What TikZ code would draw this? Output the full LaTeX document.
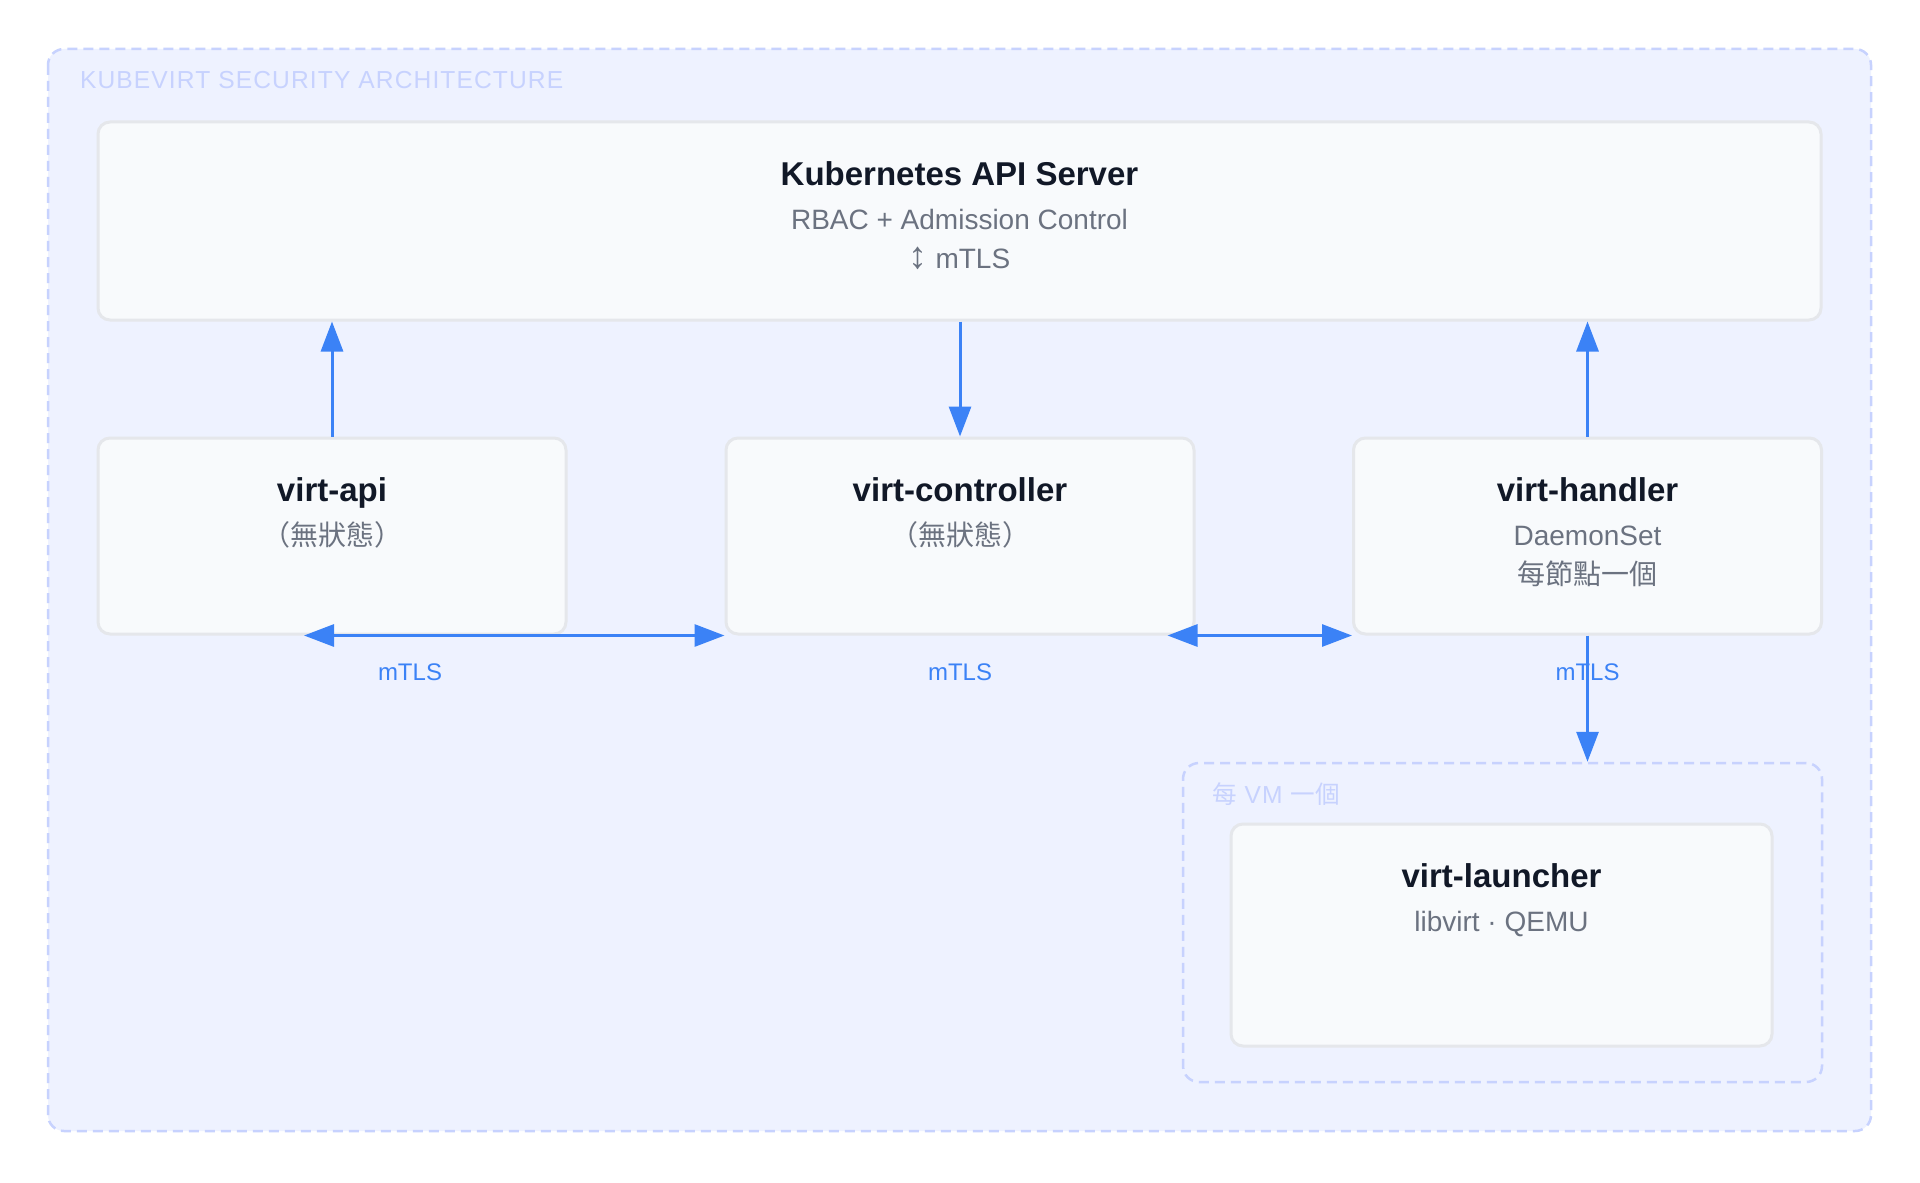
\documentclass[tikz,border=0pt]{standalone}
\usepackage{fontspec}
\setmainfont{Liberation Sans}
\newfontfamily\cjk{Noto Sans CJK TC}
\usetikzlibrary{arrows.meta,positioning,calc}
\definecolor{Frame}{HTML}{C7D2FE}
\definecolor{Wash}{HTML}{EEF2FF}
\definecolor{Card}{HTML}{F8FAFC}
\definecolor{CardLine}{HTML}{E5E7EB}
\definecolor{Link}{HTML}{3B82F6}
\definecolor{Ink}{HTML}{111827}
\definecolor{Muted}{HTML}{6B7280}

\tikzset{
  card/.style={draw=CardLine,fill=Card,line width=1.5pt,rounded corners=6pt,inner sep=0pt},
  zone/.style={draw=Frame,fill=Wash,line width=1.25pt,dash pattern=on 5pt off 3pt,rounded corners=8pt},
  head/.style={anchor=base,text=Ink,font=\fontsize{16.5}{19}\selectfont\bfseries},
  sub/.style={anchor=base,text=Muted,font=\fontsize{14}{17}\selectfont},
  tag/.style={anchor=base,text=Link,font=\fontsize{12}{14}\selectfont},
  zonetitle/.style={anchor=base west,text=Frame,font=\fontsize{12.3}{14}\selectfont\addfontfeature{LetterSpace=4.5}},
  link/.style={Link,line width=1.5pt,-{Triangle[length=15pt,width=11pt]}},
  linkboth/.style={Link,line width=1.5pt,{Triangle[length=15pt,width=11pt]}-{Triangle[length=15pt,width=11pt]}},
}

\begin{document}
\begin{tikzpicture}[x=0.5pt,y=-0.5pt]
  \useasboundingbox[fill=white] (0,0) rectangle (1920,1182);
  % outer frame
  \draw[zone] (48,49) rectangle (1871,1131);
  \node[zonetitle] (frameT) at (73,88.5) {KUBEVIRT SECURITY ARCHITECTURE};

  % API server
  \node[card,minimum width=861.5pt,minimum height=99pt] (kapi) at (959.5,221) {};
  \node[head] (kapiT) at ($(kapi.north)+(0,65)$) {Kubernetes API Server};
  \node[sub] (kapiS) at ($(kapi.north)+(0,109)$) {RBAC + Admission Control};
  \node[sub] (kapiM) at ($(kapi.north)+(0,148)$) {{\fontsize{19}{19}\selectfont↕} mTLS};

  % control plane components
  \node[card,minimum width=234pt,minimum height=98pt] (vapi) at (332,536) {};
  \node[head] (vapiT) at ($(vapi.north)+(0,65)$) {virt-api};
  \node[sub] (vapiS) at ($(vapi.north)+(0,109)$) {\cjk （無狀態）};

  \node[card,minimum width=234pt,minimum height=98pt] (vctl) at (960,536) {};
  \node[head] (vctlT) at ($(vctl.north)+(0,65)$) {virt-controller};
  \node[sub] (vctlS) at ($(vctl.north)+(0,109)$) {\cjk （無狀態）};

  \node[card,minimum width=234pt,minimum height=98pt] (vhdl) at (1587.5,536) {};
  \node[head] (vhdlT) at ($(vhdl.north)+(0,65)$) {virt-handler};
  \node[sub] (vhdlS) at ($(vhdl.north)+(0,109)$) {DaemonSet};
  \node[sub] (vhdlN) at ($(vhdl.north)+(0,147.5)$) {\cjk 每節點一個};

  % per-VM group
  \node[zone,minimum width=319.5pt,minimum height=159.5pt,inner sep=0pt] (vmgrp) at (1502.5,922.5) {};
  \node[zonetitle] (vmgrpT) at (1205,803) {{\cjk 每} VM {\cjk 一個}};
  \node[card,minimum width=270.5pt,minimum height=111pt] (vlch) at (1501.5,935) {};
  \node[head] (vlchT) at ($(vlch.north)+(0,65)$) {virt-launcher};
  \node[sub] (vlchS) at ($(vlch.north)+(0,109)$) {libvirt · QEMU};

  % connectors
  \draw[link] (vapi.north) -- (vapi.north |- kapi.south);
  \draw[link] (vctl.north |- kapi.south) -- (vctl.north);
  \draw[link] (vhdl.north) -- (vhdl.north |- kapi.south);
  \coordinate (apiEnd) at ($(vapi.south)+(-28,0)$);
  \draw[linkboth] (apiEnd) -- (vctl.south west);
  \coordinate (ctlEnd) at ($(vctl.south east)+(-28,0)$);
  \draw[linkboth] (ctlEnd) -- (vhdl.south west);
  \draw[link] (vhdl.south) -- (vhdl.south |- vmgrp.north);
  \node[tag] (tagA) at ($(vapi.south)+(78,45)$) {mTLS};
  \node[tag] (tagB) at ($(vctl.south)+(0,45)$) {mTLS};
  \node[tag] (tagC) at ($(vhdl.south)+(0,45)$) {mTLS};
\end{tikzpicture}
\end{document}
